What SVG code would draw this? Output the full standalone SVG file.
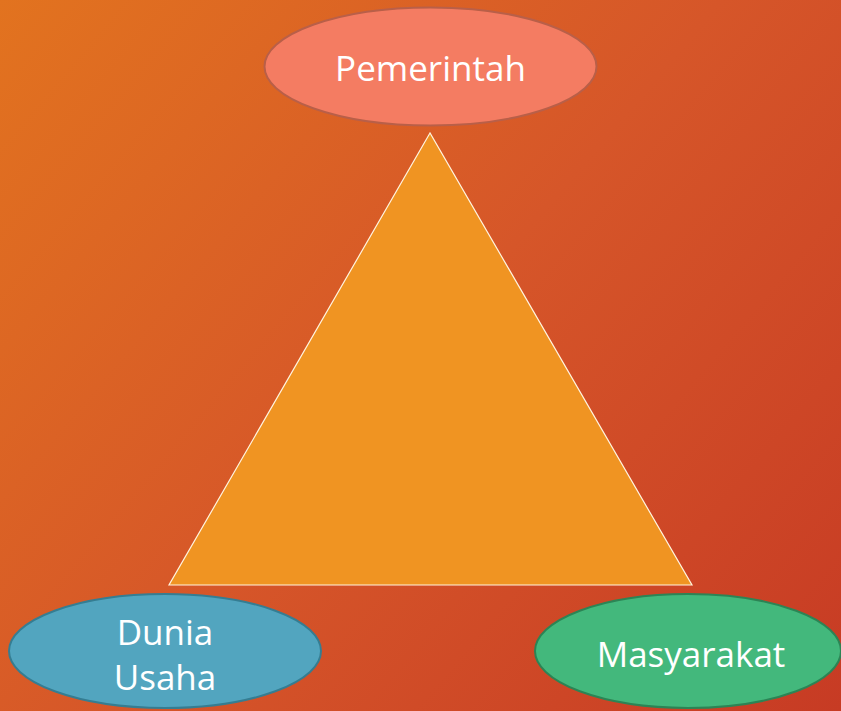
<svg xmlns="http://www.w3.org/2000/svg" width="841" height="711" viewBox="0 0 841 711">
<defs>
<linearGradient id="bg" x1="0" y1="0" x2="841" y2="711" gradientUnits="userSpaceOnUse">
<stop offset="0" stop-color="#E2731F"/>
<stop offset="0.5" stop-color="#D65629"/>
<stop offset="1" stop-color="#C73B24"/>
</linearGradient>
<style>
.lbl{font-family:"Open Sans","Noto Sans",sans-serif;font-size:35px;fill:#FFFFFF;text-anchor:middle}
</style>
</defs>
<rect x="0" y="0" width="841" height="711" fill="url(#bg)"/>
<g id="connectors">
<polygon points="430,133 169,585 692,585" fill="#F09422" stroke="#FFF4E0" stroke-width="1.2"/>
</g>
<g id="pemerintah">
<ellipse cx="430.5" cy="66.5" rx="166" ry="59" fill="#F47C62" stroke="#B95F48" stroke-width="2"/>
<text class="lbl" x="430.5" y="81">Pemerintah</text>
</g>
<g id="dunia-usaha">
<ellipse cx="165" cy="651" rx="156" ry="57" fill="#52A5BF" stroke="#357D92" stroke-width="2"/>
<text class="lbl" x="165" y="645">Dunia</text>
<text class="lbl" x="165" y="690">Usaha</text>
</g>
<g id="masyarakat">
<ellipse cx="688" cy="651" rx="153" ry="57" fill="#43B87C" stroke="#2C8455" stroke-width="2"/>
<text class="lbl" x="691" y="667">Masyarakat</text>
</g>
</svg>
